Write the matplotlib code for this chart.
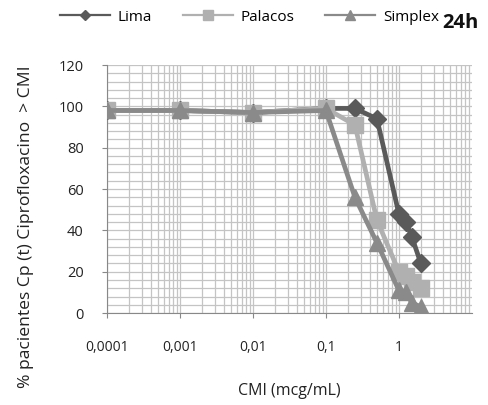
import matplotlib
matplotlib.use("Agg")
import matplotlib.pyplot as plt
from matplotlib.lines import Line2D
from matplotlib.ticker import FixedLocator, FixedFormatter, MultipleLocator, LogLocator, NullFormatter

plt.rcParams['font.family'] = ['Open Sans', 'DejaVu Sans']

lima_x = [0.0001, 0.001, 0.01, 0.1, 0.25, 0.5, 1, 1.25, 1.5, 2]
lima_y = [98, 98, 97, 99, 99, 94, 48, 44, 37, 24]
palacos_x = [0.0001, 0.001, 0.01, 0.1, 0.25, 0.5, 1, 1.25, 1.5, 2]
palacos_y = [98, 98, 97, 99, 91, 45, 20, 18, 15, 12]
simplex_x = [0.0001, 0.001, 0.01, 0.1, 0.25, 0.5, 1, 1.25, 1.5, 2]
simplex_y = [98, 98, 97, 98, 56, 34, 11, 10, 5, 3]

xticks = [0.0001, 0.001, 0.01, 0.1, 1]
xticklabels = ["0,0001", "0,001", "0,01", "0,1", "1"]

c_lima, c_pal, c_sim = '#5a5a5a', '#b0b0b0', '#8a8a8a'

fig = plt.figure(figsize=(4.88, 4.05), dpi=100)
ax = fig.add_axes([0.219, 0.227, 0.748, 0.6125])

ax.set_xscale('log')
ax.set_xlim(0.0001, 10)
ax.set_ylim(0, 120)

ax.plot(lima_x, lima_y, color=c_lima, lw=3.4, marker='D', ms=9, zorder=4)
ax.plot(palacos_x, palacos_y, color=c_pal, lw=3.4, marker='s', ms=11, zorder=5)
ax.plot(simplex_x, simplex_y, color=c_sim, lw=3.4, marker='^', ms=12, zorder=6)

ax.xaxis.set_major_locator(FixedLocator(xticks))
ax.xaxis.set_major_formatter(FixedFormatter(xticklabels))
ax.xaxis.set_minor_locator(LogLocator(base=10, subs=range(2, 10), numticks=20))
ax.xaxis.set_minor_formatter(NullFormatter())
ax.yaxis.set_major_locator(MultipleLocator(20))
ax.yaxis.set_minor_locator(MultipleLocator(4))

ax.grid(True, which='both', color='#c4c4c4', lw=0.9)
ax.set_axisbelow(True)
for s in ['top', 'right']:
    ax.spines[s].set_visible(False)
for s in ['left', 'bottom']:
    ax.spines[s].set_color('#888888')
ax.tick_params(which='minor', length=0)
ax.tick_params(which='major', length=3.6, color='#888888', labelcolor='#222222')
ax.tick_params(axis='x', pad=16, labelsize=10)
ax.tick_params(axis='y', pad=13, labelsize=10.5)

ax.set_xlabel('CMI (mcg/mL)', fontsize=11.5, labelpad=20, color='#222222')
ax.set_ylabel('% pacientes Cp (t) Ciprofloxacino  > CMI', fontsize=12.6, color='#222222')
ax.yaxis.set_label_coords(-0.2, 0.347)

handles = [Line2D([], [], color=c_lima, lw=1.6, marker='D', ms=5),
           Line2D([], [], color=c_pal, lw=1.6, marker='s', ms=6.5),
           Line2D([], [], color=c_sim, lw=1.6, marker='^', ms=7)]
fig.legend(handles, ['Lima', 'Palacos', 'Simplex'], loc='center left',
           bbox_to_anchor=(0.122, 0.958), ncol=3, frameon=False,
           fontsize=11, handlelength=3.3, columnspacing=2.0, handletextpad=0.5,
           borderaxespad=0, borderpad=0)
fig.text(0.906, 0.944, '24h', fontsize=14.5, fontweight='bold', color='#111111', va='center')

fig.savefig('out.png', dpi=100)
